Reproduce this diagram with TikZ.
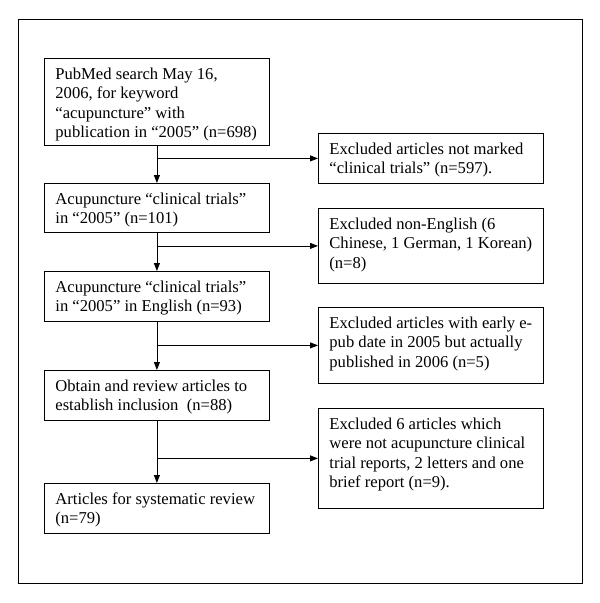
\documentclass[tikz,border=0pt]{standalone}
\usepackage{fontspec}
\setmainfont{Liberation Serif}
\usetikzlibrary{arrows.meta}
\newcommand\bxtext[2]{\parbox[c][#1][t]{203pt}{\raggedright\rule{0pt}{21.3pt}#2}}
\tikzset{
  flowbox/.style={draw=black, line width=0.8pt, inner xsep=11pt, inner ysep=0pt,
    anchor=north west, font=\fontsize{16.6}{19.2}\selectfont},
  flowline/.style={draw=black, line width=0.8pt},
  flowarrow/.style={flowline, -{Triangle[length=8pt,width=6pt]}}
}
\begin{document}
\begin{tikzpicture}[x=1pt,y=-1pt]
\useasboundingbox (0,0) rectangle (600,603);
\draw[flowline] (18,19) rectangle (582,583);
% left column
\node[flowbox] (b1) at (44,58) {\bxtext{87pt}{PubMed search May 16,\\2006, for keyword\\“acupuncture” with\\publication in “2005” (n=698)}};
\node[flowbox] (b2) at (44,183) {\bxtext{49pt}{Acupuncture “clinical trials”\\in “2005” (n=101)}};
\node[flowbox] (b3) at (44,271) {\bxtext{50pt}{Acupuncture “clinical trials”\\in “2005” in English (n=93)}};
\node[flowbox] (b4) at (44,370) {\bxtext{50pt}{Obtain and review articles to\\establish inclusion\ \ (n=88)}};
\node[flowbox] (b5) at (44,483) {\bxtext{50pt}{Articles for systematic review\\(n=79)}};
% right column
\node[flowbox] (r1) at (318,133) {\bxtext{50pt}{Excluded articles not marked\\“clinical trials” (n=597).}};
\node[flowbox] (r2) at (318,208) {\bxtext{75pt}{Excluded non-English (6\\Chinese, 1 German, 1 Korean)\\(n=8)}};
\node[flowbox] (r3) at (318,307) {\bxtext{76pt}{Excluded articles with early e-\\pub date in 2005 but actually\\published in 2006 (n=5)}};
\node[flowbox] (r4) at (318,408) {\bxtext{100pt}{Excluded 6 articles which\\were not acupuncture clinical\\trial reports, 2 letters and one\\brief report (n=9).}};
% junctions
\coordinate (j1) at (b1.south |- r1.west);
\coordinate (j2) at (b2.south |- r2.west);
\coordinate (j3) at (b3.south |- r3.west);
\coordinate (j4) at (b4.south |- r4.west);
% connectors
\draw[flowarrow] (b1.south) -- (b2.north);
\draw[flowarrow] (b2.south) -- (b3.north);
\draw[flowarrow] (b3.south) -- (b4.north);
\draw[flowarrow] (b4.south) -- (b5.north);
\draw[flowarrow] (j1) -- (r1.west);
\draw[flowarrow] (j2) -- (r2.west);
\draw[flowarrow] (j3) -- (r3.west);
\draw[flowarrow] (j4) -- (r4.west);
\end{tikzpicture}
\end{document}
